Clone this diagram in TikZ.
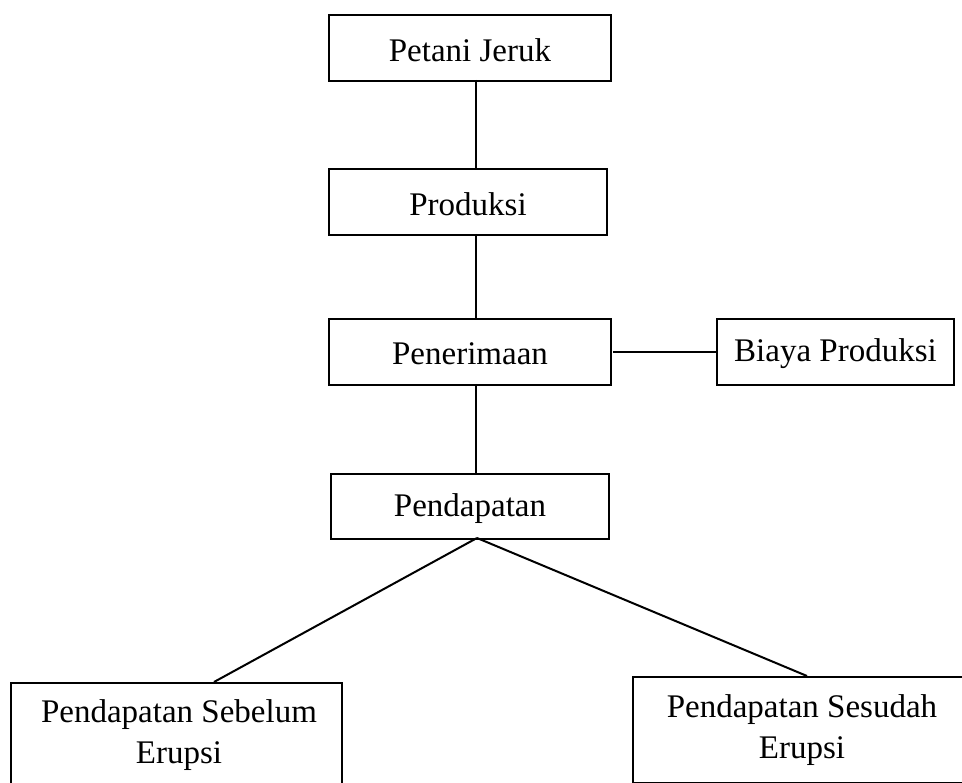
\documentclass[tikz,border=0pt]{standalone}
\usepackage{fontspec}
\setmainfont{Liberation Serif}
\begin{document}
\begin{tikzpicture}[x=1pt,y=-1pt,
  box/.style={draw, line width=2pt, inner sep=0pt, anchor=north west},
  lbl/.style={inner sep=0pt, align=center, font=\fontsize{33}{41}\selectfont},
  conn/.style={line width=2pt}]
\useasboundingbox (0,0) rectangle (962,783);
\clip (0,0) rectangle (962,783);
\node[box, minimum width=282, minimum height=66] (petani) at (328,14) {};
\node[lbl] at ([yshift=-2]petani.center) {Petani Jeruk};
\node[box, minimum width=278, minimum height=66] (produksi) at (328,168) {};
\node[lbl] at ([yshift=-2]produksi.center) {Produksi};
\node[box, minimum width=282, minimum height=66] (pen) at (328,318) {};
\node[lbl] at ([yshift=-2]pen.center) {Penerimaan};
\node[box, minimum width=237, minimum height=66] (biaya) at (716,318) {};
\node[lbl] at ([yshift=-2]biaya.center) {Biaya Produksi};
\node[box, minimum width=278, minimum height=65] (pend) at (330,473) {};
\node[lbl] at ([yshift=-2]pend.center) {Pendapatan};
\node[box, minimum width=331, minimum height=125] (sebelum) at (10,682) {};
\node[lbl] (sebelumtxt) at (179,735) {Pendapatan Sebelum\\Erupsi};
\node[box, minimum width=340, minimum height=106] (sesudah) at (632,676) {};
\node[lbl] (sesudahtxt) at (802,730) {Pendapatan Sesudah\\Erupsi};
\coordinate (c1) at (476,80);
\coordinate (c2) at (476,168);
\draw[conn] (c1) -- (c2);
\coordinate (c3) at (476,234);
\coordinate (c4) at (476,318);
\draw[conn] (c3) -- (c4);
\coordinate (c5) at (476,384);
\coordinate (c6) at (476,473);
\draw[conn] (c5) -- (c6);
\coordinate (h1) at (613,352);
\draw[conn] (h1) -- (biaya.west);
\coordinate (apex) at (477,538);
\coordinate (lend) at (214,682);
\coordinate (rend) at (807,676);
\draw[conn] (apex) -- (lend);
\draw[conn] (apex) -- (rend);
\end{tikzpicture}
\end{document}
